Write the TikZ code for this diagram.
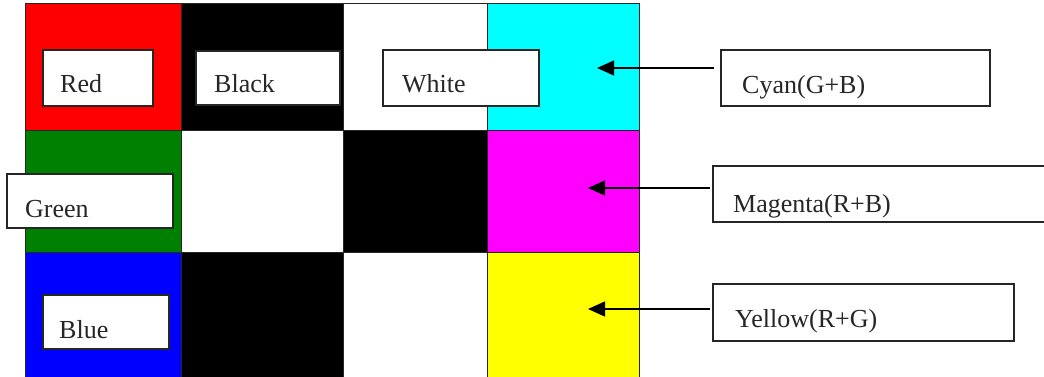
\documentclass[tikz,border=0pt]{standalone}
\usepackage{fontspec}
\setmainfont{Liberation Serif}
\usetikzlibrary{arrows.meta}
\begin{document}
\begin{tikzpicture}[x=1pt,y=-1pt,
  cell/.style={draw=black!85,line width=0.9pt},
  lbox/.style={draw=black!85,fill=white,line width=1.2pt,anchor=north west,inner sep=0pt,outer sep=0pt},
  ltxt/.style={anchor=base west,inner sep=0pt,font=\fontsize{26}{30}\selectfont,text=black!85},
  arr/.style={line width=1.3pt,-{Triangle[length=17pt,width=15pt]}}]
\clip (0,0) rectangle (1044,376);
\useasboundingbox (0,0) rectangle (1044,376);
\fill[white] (0,0) rectangle (1044,376);
% grid row 1
\filldraw[cell,fill={rgb,255:red,255;green,0;blue,0}] (25,3) rectangle (181,130);
\filldraw[cell,fill=black] (181,3) rectangle (343,130);
\filldraw[cell,fill=white] (343,3) rectangle (487,130);
\filldraw[cell,fill={rgb,255:red,0;green,255;blue,255}] (487,3) rectangle (639,130);
% row 2
\filldraw[cell,fill={rgb,255:red,0;green,128;blue,0}] (25,130) rectangle (181,252);
\filldraw[cell,fill=white] (181,130) rectangle (343,252);
\filldraw[cell,fill=black] (343,130) rectangle (487,252);
\filldraw[cell,fill={rgb,255:red,255;green,0;blue,255}] (487,130) rectangle (639,252);
% row 3
\filldraw[cell,fill={rgb,255:red,0;green,0;blue,255}] (25,252) rectangle (181,380);
\filldraw[cell,fill=black] (181,252) rectangle (343,380);
\filldraw[cell,fill=white] (343,252) rectangle (487,380);
\filldraw[cell,fill={rgb,255:red,255;green,255;blue,0}] (487,252) rectangle (639,380);
% label boxes
\node[lbox,minimum width=110pt,minimum height=56pt] (redbox) at (43,50) {};
\node[ltxt] (redtxt) at (60,92) {Red};
\node[lbox,minimum width=144pt,minimum height=54pt] (blackbox) at (196,51) {};
\node[ltxt] (blacktxt) at (214,92) {Black};
\node[lbox,minimum width=156pt,minimum height=56pt] (whitebox) at (383,50) {};
\node[ltxt] (whitetxt) at (402,92) {White};
\node[lbox,minimum width=166pt,minimum height=54pt] (greenbox) at (7,174) {};
\node[ltxt] (greentxt) at (25,217) {Green};
\node[lbox,minimum width=126pt,minimum height=54pt] (bluebox) at (43,295) {};
\node[ltxt] (bluetxt) at (59,338) {Blue};
\node[lbox,minimum width=269pt,minimum height=56pt] (cyanbox) at (721,50) {};
\node[ltxt] (cyantxt) at (742,93) {Cyan(G+B)};
\node[lbox,minimum width=340pt,minimum height=56pt] (magbox) at (713,166) {};
\node[ltxt] (magtxt) at (733,212) {Magenta(R+B)};
\node[lbox,minimum width=301pt,minimum height=57pt] (yelbox) at (713,284) {};
\node[ltxt] (yeltxt) at (735,327) {Yellow(R+G)};
% arrows
\coordinate (cyanstart) at (714,68);
\coordinate (cyantip) at (597,68);
\coordinate (magstart) at (710,188);
\coordinate (magtip) at (588,188);
\coordinate (yelstart) at (710,309);
\coordinate (yeltip) at (588,309);
\draw[arr] (cyanstart) -- (cyantip);
\draw[arr] (magstart) -- (magtip);
\draw[arr] (yelstart) -- (yeltip);
\end{tikzpicture}
\end{document}
